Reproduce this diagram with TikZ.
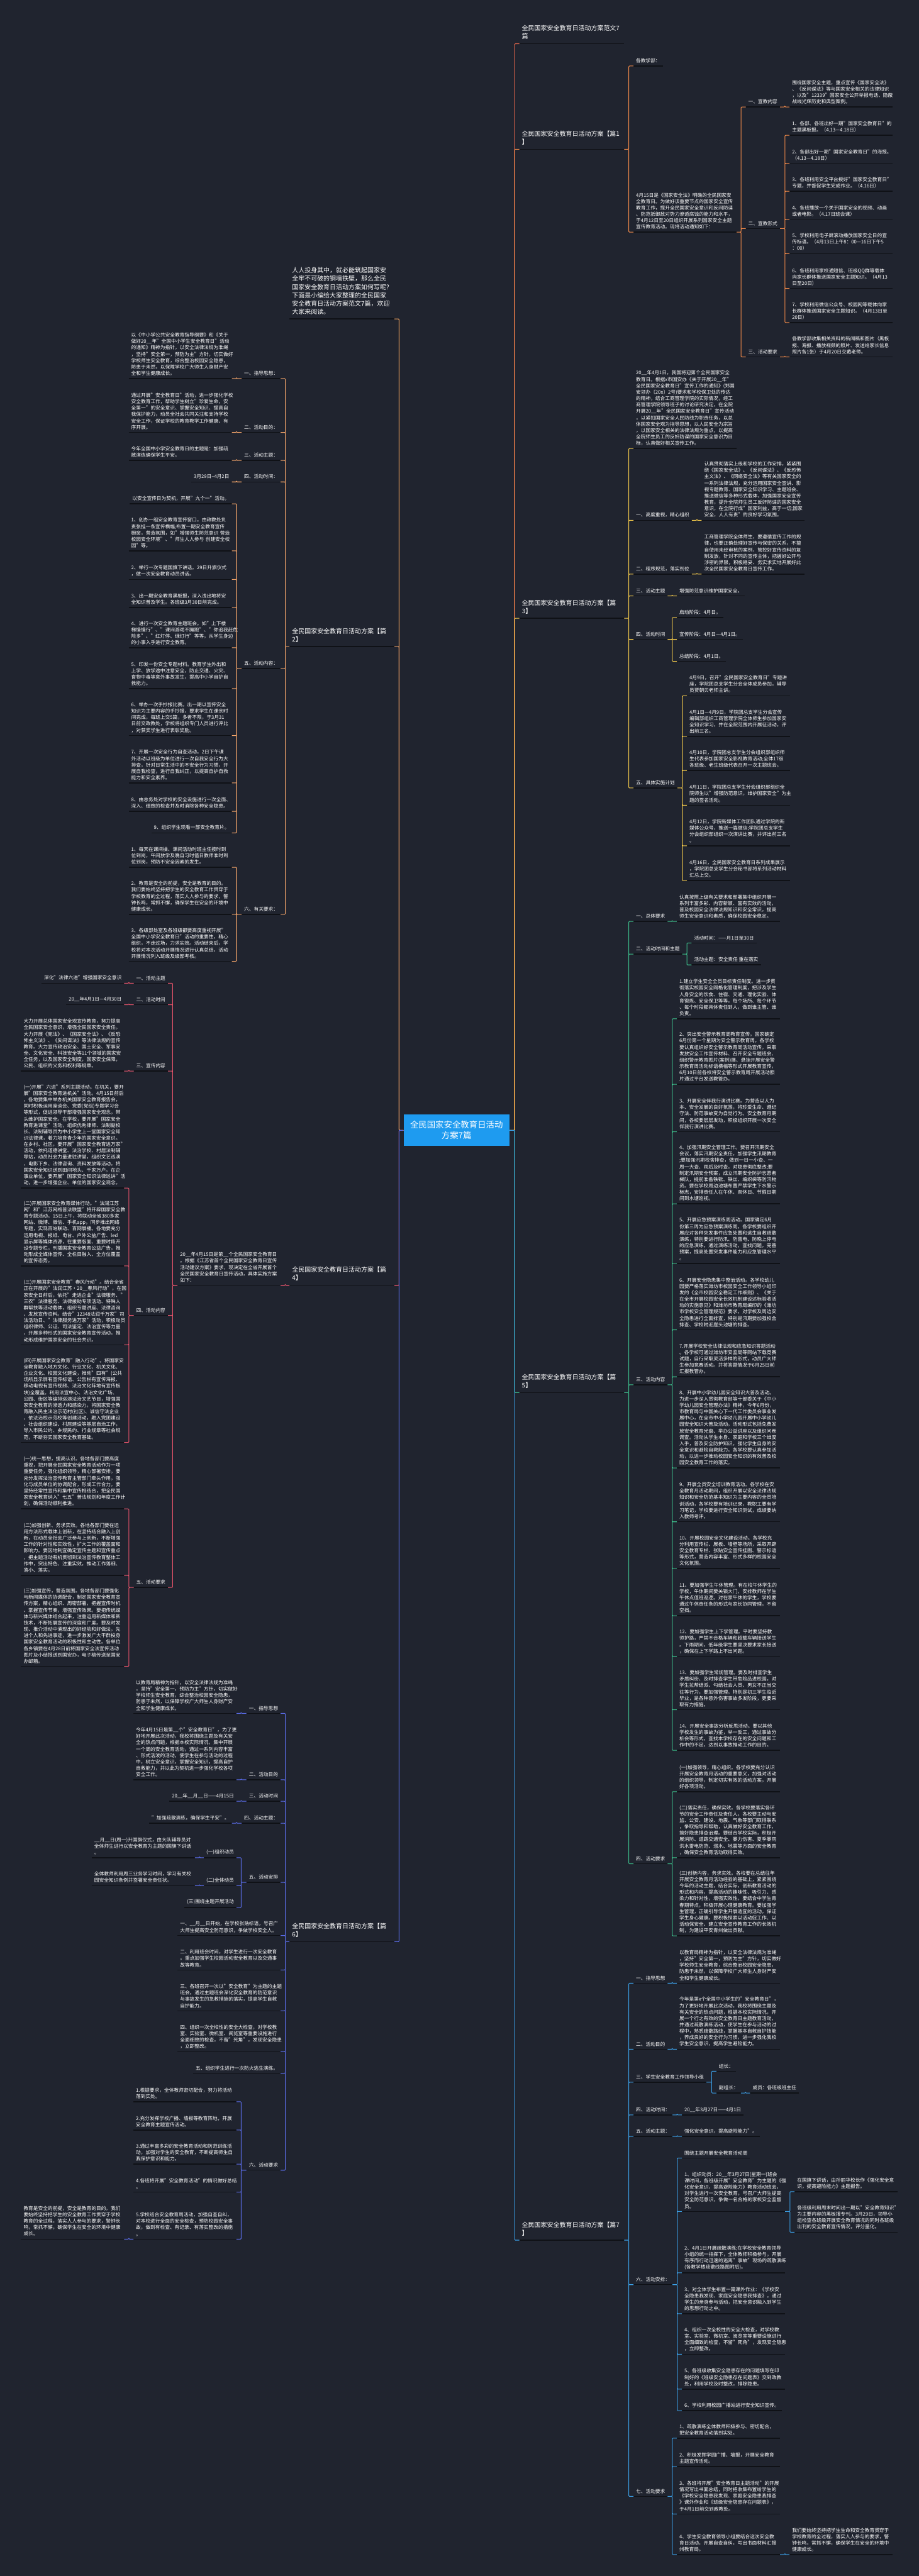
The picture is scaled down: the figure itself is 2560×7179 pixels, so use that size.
\documentclass[tikz,border=0pt]{standalone}
\usepackage{fontspec}
\setmainfont{Noto Sans CJK SC}
\usetikzlibrary{positioning,calc}
\definecolor{bgc}{HTML}{20242F}
\definecolor{ulc}{HTML}{0F1116}
\definecolor{rootc}{HTML}{1E9BF0}
\definecolor{cT}{HTML}{EE6A4D}
\definecolor{cA}{HTML}{F38B4A}
\definecolor{cI}{HTML}{F0A35E}
\definecolor{cB}{HTML}{F2A46A}
\definecolor{cC}{HTML}{F5CB4B}
\definecolor{cD}{HTML}{E9546B}
\definecolor{cE}{HTML}{3DBE8B}
\definecolor{cF}{HTML}{5A6CE8}
\definecolor{cG}{HTML}{3B9FE6}

\begin{document}
\begin{tikzpicture}[x=1pt, y=-1pt,
        uline/.style={draw=ulc, line width=2.6pt},
        txt/.style={text=white, font=\fontsize{13.5}{17.8}\selectfont, align=left, inner xsep=7pt, inner ysep=8pt,
            append after command={(\tikzlastnode.south west) edge[uline] (\tikzlastnode.south east)}},
        para/.style={txt, text width=273pt},
        top/.style={txt, font=\fontsize{17.5}{23}\selectfont, text width=278pt, inner ysep=12pt},
        rt/.style={anchor=south west},
        lt/.style={anchor=south east},
        root/.style={fill=rootc, text=white, font=\fontsize{23.5}{30}\selectfont, align=center, minimum width=295pt, minimum height=87pt, inner sep=0pt},
        lk/.style={line width=1.8pt, rounded corners=2pt},
        rto/.style={lk, to path={-| ($(\tikztotarget)+(-13,0)$) -- (\tikztotarget)}},
        lto/.style={lk, to path={-| ($(\tikztotarget)+(13,0)$) -- (\tikztotarget)}}]

    \fill[bgc] (0,0) rectangle (2560,7179);

    \node[root] (root) at (1272,3150) {全民国家安全教育日活动\\方案7篇};

    % first level
    \node[top, rt] (p0) at (1447,122) {全民国家安全教育日活动方案范文7\\篇};
    \node[top, rt] (p1) at (1447,416) {全民国家安全教育日活动方案【篇1\\】};
    \node[top, rt] (p3) at (1447,1723) {全民国家安全教育日活动方案【篇\\3】};
    \node[top, rt] (p5) at (1447,3881) {全民国家安全教育日活动方案【篇\\5】};
    \node[top, rt] (p7) at (1447,6243) {全民国家安全教育日活动方案【篇7\\】};
    \node[top, lt] (intro) at (1099,889) {人人投身其中，就必能筑起国家安\\全牢不可破的铜墙铁壁，那么全民\\国家安全教育日活动方案如何写呢?\\下面是小编给大家整理的全民国家\\安全教育日活动方案范文7篇，欢迎\\大家来阅读。};
    \node[top, lt] (p2) at (1099,1802) {全民国家安全教育日活动方案【篇\\2】};
    \node[top, lt] (p4) at (1099,3582) {全民国家安全教育日活动方案【篇\\4】};
    \node[top, lt] (p6) at (1099,5411) {全民国家安全教育日活动方案【篇\\6】};

    \draw[cT, rto] (root.east) to (p0.south west);
    \draw[cA, rto] (root.east) to (p1.south west);
    \draw[cC, rto] (root.east) to (p3.south west);
    \draw[cE, rto] (root.east) to (p5.south west);
    \draw[cG, rto] (root.east) to (p7.south west);
    \draw[cI, lto] (root.west) to (intro.south east);
    \draw[cB, lto] (root.west) to (p2.south east);
    \draw[cD, lto] (root.west) to (p4.south east);
    \draw[cF, lto] (root.west) to (p6.south east);

    % 篇1
    \node[txt, rt] (p1a) at (1765,184) {各教学部：};
    \node[para, rt] (p1b) at (1765,647) {4月15日是《国家安全法》明确的全民国家安\\全教育日。为做好该重要节点的国家安全宣传\\教育工作，提升全民国家安全意识和反间防谍\\、防范抵御敌对势力渗透腐蚀的能力和水平，\\于4月12日至20日组织开展系列国家安全主题\\宣传教育活动。现将活动通知如下：};
    \node[txt, rt] (p1b1) at (2078,298) {一、宣教内容};
    \node[para, rt] (p1b1a) at (2200,298) {围绕国家安全主题，重点宣传《国家安全法》\\、《反间谍法》等与国家安全相关的法律知识\\，以及"12339"国家安全公开举报电话、隐蔽\\战线光辉历史和典型案例。};
    \node[txt, rt] (p1b2) at (2078,637) {二、宣教形式};
    \node[para, rt] (p1b2a) at (2200,377) {1、各部、各班出好一期"国家安全教育日"的\\主题黑板报。（4.13—4.18日）};
    \node[para, rt] (p1b2b) at (2200,455) {2、各部出好一期"国家安全教育日"的海报。\\（4.13—4.18日）};
    \node[para, rt] (p1b2c) at (2200,533) {3、各班利用安全平台授好"国家安全教育日"\\专题，并督促学生完成作业。（4.16日）};
    \node[para, rt] (p1b2d) at (2200,611) {4、各班播放一个关于国家安全的视频、动画\\或者电影。（4.17日班会课）};
    \node[para, rt] (p1b2e) at (2200,707) {5、学校利用电子屏滚动播放国家安全日的宣\\传标语。（4月13日上午8：00—16日下午5\\：00）};
    \node[para, rt] (p1b2f) at (2200,804) {6、各班利用家校通短信、班级QQ群等载体\\向家长群体推送国家安全主题知识。（4月13\\日至20日）};
    \node[para, rt] (p1b2g) at (2200,899) {7、学校利用微信公众号、校园网等载体向家\\长群体推送国家安全主题知识。（4月13日至\\20日）};
    \node[txt, rt] (p1b3) at (2078,995) {三、活动要求};
    \node[para, rt] (p1b3a) at (2200,995) {各教学部收集相关资料的新闻稿和图片（黑板\\报、海报、播放视频的照片、发送给家长信息\\照片各1张）于4月20日交戴老师。};

    \draw[cA, rto] (p1.south east) to (p1a.south west) (p1.south east) to (p1b.south west);
    \draw[cA, rto] (p1b.south east) to (p1b1.south west) (p1b.south east) to (p1b2.south west) (p1b.south east) to (p1b3.south west);
    \draw[cA, rto] (p1b1.south east) to (p1b1a.south west);
    \draw[cA, rto] (p1b2.south east) to (p1b2a.south west) (p1b2.south east) to (p1b2b.south west) (p1b2.south east) to (p1b2c.south west)
        (p1b2.south east) to (p1b2d.south west) (p1b2.south east) to (p1b2e.south west) (p1b2.south east) to (p1b2f.south west)
        (p1b2.south east) to (p1b2g.south west);
    \draw[cA, rto] (p1b3.south east) to (p1b3a.south west);

    % 篇3
    \node[para, rt] (p3a) at (1765,1250) {20\_\_年4月1日，我国将迎第个全民国家安全\\教育日。根据x市国安办《关于开展20\_\_年"\\全民国家安全教育日"宣传工作的通知》(郑国\\安领办〔20x〕2号)要求和学校保卫处的传达\\的精神，结合工商管理学院的实际情况，经工\\商管理学院领导班子的讨论研究决定，在全院\\开展20\_\_年"全民国家安全教育日"宣传活动\\，以紧扣国家安全人民防线为职责任务，以总\\体国家安全观为指导思想，以人民安全为宗旨\\，以国家安全相关的法律法规为重点，以提高\\全院师生员工的反奸防谍的国家安全意识为目\\标，认真做好相关宣传工作。};
    \node[txt, rt] (p3b) at (1765,1450) {一、高度重视，精心组织};
    \node[para, rt] (p3b1) at (1955,1450) {认真贯彻落实上级和学校的工作安排，紧紧围\\绕《国家安全法》、《反间谍法》、《反恐怖\\主义法》、《网络安全法》等有关国家安全的\\一系列法律法规，充分运用国家安全宣讲、影\\视专题教育、国家安全知识学习、主题班会、\\推送微信等多种形式载体，加强国家安全宣传\\教育，提升全院师生员工反奸防谍的国家安全\\意识，在全院行成"国家利益，高于一切;国家\\安全，人人有责"的良好学习氛围。};
    \node[txt, rt] (p3c) at (1765,1600) {二、程序规范，落实到位};
    \node[para, rt] (p3c1) at (1955,1600) {工商管理学院全体师生，要遵循宣传工作的规\\律，也要正确处理好宣传与保密的关系，不擅\\自使用未经审核的案例，管控好宣传资料的复\\制发放，针对不同的宣传主体，把握好公开与\\涉密的界限，积极稳妥、务实求实地开展好此\\次全民国家安全教育日宣传工作。};
    \node[txt, rt] (p3d) at (1765,1661) {三、活动主题};
    \node[txt, rt] (p3d1) at (1886,1661) {增强防范意识维护国家安全。};
    \node[txt, rt] (p3e) at (1765,1782) {四、活动时间};
    \node[txt, rt] (p3e1) at (1886,1721) {启动阶段：4月日。};
    \node[txt, rt] (p3e2) at (1886,1782) {宣传阶段：4月日—4月1日。};
    \node[txt, rt] (p3e3) at (1886,1843) {总结阶段：4月1日。};
    \node[txt, rt] (p3f) at (1765,2196) {五、具体实施计划};
    \node[para, rt] (p3f1) at (1914,1939) {4月9日，召开"全民国家安全教育日"专题讲\\座，学院团总支学生分会全体成员参加，辅导\\员贾朝贝老师主讲。};
    \node[para, rt] (p3f2) at (1914,2052) {4月1日—4月9日，学院团总支学生分会宣传\\编辑部组织工商管理学院全体师生参加国家安\\全知识学习，并在全院范围内开展征活动，评\\出前三名。};
    \node[para, rt] (p3f3) at (1914,2147) {4月10日，学院团总支学生分会组织部组织师\\生代表参加国家安全影视教育活动;全体17级\\各班级、老生班级代表召开一次主题班会。};
    \node[para, rt] (p3f4) at (1914,2244) {4月11日，学院团总支学生分会组织部组织全\\院师生以"增强防范意识，维护国家安全"为主\\题的签名活动。};
    \node[para, rt] (p3f5) at (1914,2357) {4月12日，学院新媒体工作团队通过学院的新\\媒体公众号，推送一篇微信;学院团总支学生\\分会组织部组织一次演讲比赛，并评出前三名\\。};
    \node[para, rt] (p3f6) at (1914,2454) {4月16日，全民国家安全教育日系列成果展示\\，学院团总支学生分会秘书部将系列活动材料\\汇总上交。};

    \draw[cC, rto] (p3.south east) to (p3a.south west) (p3.south east) to (p3b.south west) (p3.south east) to (p3c.south west)
        (p3.south east) to (p3d.south west) (p3.south east) to (p3e.south west) (p3.south east) to (p3f.south west);
    \draw[cC, rto] (p3b.south east) to (p3b1.south west);
    \draw[cC, rto] (p3c.south east) to (p3c1.south west);
    \draw[cC, rto] (p3d.south east) to (p3d1.south west);
    \draw[cC, rto] (p3e.south east) to (p3e1.south west) (p3e.south east) to (p3e2.south west) (p3e.south east) to (p3e3.south west);
    \draw[cC, rto] (p3f.south east) to (p3f1.south west) (p3f.south east) to (p3f2.south west) (p3f.south east) to (p3f3.south west)
        (p3f.south east) to (p3f4.south west) (p3f.south east) to (p3f5.south west) (p3f.south east) to (p3f6.south west);

    % 篇5
    \node[txt, rt] (p5a) at (1765,2568) {一、总体要求};
    \node[para, rt] (p5a1) at (1886,2568) {认真按照上级有关要求和部署集中组织开展一\\系列丰富多彩、内容新颖、富有实效的活动，\\普及校园安全法律法规知识和安全常识，提高\\师生安全意识和素质，确保校园安全稳定。};
    \node[txt, rt] (p5b) at (1765,2659) {二、活动时间和主题};
    \node[txt, rt] (p5b1) at (1927,2628) {活动时间：——月1日至30日};
    \node[txt, rt] (p5b2) at (1927,2689) {活动主题：安全责任~重在落实};
    \node[txt, rt] (p5c) at (1765,3859) {三、活动内容};
    \node[para, rt] (p5c1) at (1886,2839) {1.建立学生安全全员目标责任制度。进一步贯\\彻落实校园安全网格化管理制度，把涉及学生\\人身安全的饮食、住宿、交通、理化实验、体\\育锻炼、安全保卫等等，每个场所、每个环节\\、每个时段都具体责任到人，做到谁主管、谁\\负责。};
    \node[para, rt] (p5c2) at (1886,3022) {2、突出安全警示教育周教育宣传。国家确定\\6月份第一个星期为安全警示教育周。各学校\\要认真组织好安全警示教育周活动宣传。采取\\发放安全工作宣传材料、召开安全专题班会、\\组织警示教育图片(案例)展、悬挂开展安全警\\示教育周活动标语横幅等形式开展教育宣传，\\6月10日前各校将安全警示教育周开展活动照\\片通过平台发送教管办。};
    \node[para, rt] (p5c3) at (1886,3154) {3、开展安全伴我行演讲比赛。为营造以人为\\本、安全发展的良好氛围，将珍爱生命、遵纪\\守法、防范事故变为自觉行为。安全教育月期\\间，各校要层层发动，积极组织开展一次安全\\伴我行演讲比赛。};
    \node[para, rt] (p5c4) at (1886,3355) {4、加强汛期安全管理工作。要召开汛期安全\\会议，落实汛期安全责任，加强学生汛期教育\\;要加强汛期校舍排查，做到一日一小查、一\\周一大查、雨后及时查，对隐患彻底整改;要\\制定汛期安全预案，成立汛期安全防护志愿者\\梯队，提前准备铁锨、铁丝、编织袋等防汛物\\资。要在学校周边池塘布置严禁学生下水警示\\标志，安排责任人在午休、双休日、节假日期\\间到水塘巡视。};
    \node[para, rt] (p5c5) at (1886,3521) {5、开展应急预案演练周活动。国家确定6月\\份第三周为应急预案演练周。各学校要组织开\\展应对各种突发事件应急处置和逃生自救疏散\\演练，特别要进行防汛、防雷电、防晚上停电\\的应急演练。通过演练活动，查找问题，完善\\预案，提高处置突发事件能力和应急管理水平\\。};
    \node[para, rt] (p5c6) at (1886,3706) {6、开展安全隐患集中整治活动。各学校幼儿\\园要严格落实潍坊市校园安全工作领导小组印\\发的《全市校园安全稳定工作细则》、《关于\\在全市开展校园安全长效机制建设达标验收活\\动的实施意见》和潍坊市教育局编印的《潍坊\\市学校安全管理规范》要求，对学校及周边安\\全隐患进行全面排查，特别是汛期要加强校舍\\排查、学校附近崖头池塘的排查。};
    \node[para, rt] (p5c7) at (1886,3837) {7.开展学校安全法律法规和应急知识答题活动\\。各学校可通过潍坊市安监局等网站下载竞赛\\试题，自行采取灵活多样的形式，动员广大师\\生参加竞赛活动。并将答题情况于6月25日前\\汇报教管办。};
    \node[para, rt] (p5c8) at (1886,4091) {8、开展中小学幼儿园安全知识大普及活动。\\为进一步深入贯彻教育部等十部委关于《中小\\学幼儿园安全管理办法》精神，今年6月份，\\市教育局与中国关心下一代工作委员会事业发\\展中心，在全市中小学幼儿园开展中小学幼儿\\园安全知识大普及活动。活动形式包括免费发\\放安全教育光盘、举办公益讲座以及组织问卷\\调查。活动从学生本身、家庭和学校三个维度\\入手，普及安全防护知识，强化学生自身的安\\全意识和避险自救能力。各学校要认真参加活\\动，以进一步推动校园安全知识的有效普及校\\园安全教育工作的落实。};
    \node[para, rt] (p5c9) at (1886,4241) {9、开展全员安全培训教育活动。各学校在安\\全教育月活动期间，组织开展以安全法律法规\\知识和安全防范基本知识为主要内容的全员培\\训活动，各学校要有培训记录，教职工要有学\\习笔记，学校要进行安全知识测试，成绩要纳\\入教师考评。};
    \node[para, rt] (p5c10) at (1886,4371) {10、开展校园安全文化建设活动。各学校充\\分利用宣传栏、展板、墙壁等场所，采取开辟\\安全教育专栏、张贴安全宣传挂图、警示标语\\等形式，营造内容丰富、形式多样的校园安全\\文化氛围。};
    \node[para, rt] (p5c11) at (1886,4503) {11、要加强学生午休管理。有在校午休学生的\\学校，午休期间要关锁大门，安排教师在学生\\午休点值班巡逻。对在家午休的学生，学校要\\通过午休责任条的形式与家长协同管理，不留\\空挡。};
    \node[para, rt] (p5c12) at (1886,4616) {12、要加强学生上下学管理。平时要坚持教\\师护路，严禁不合格车辆和超载车辆接送学生\\。下雨期间，低年级学生要坚决要求家长接送\\，确保在上下学路上不出问题。};
    \node[para, rt] (p5c13) at (1886,4765) {13、要加强学生常规管理。要及时排查学生\\矛盾纠纷、及时排查学生带危险品进校园，对\\学生拉帮结派、勾结社会人员、男女不正当交\\往等行为，要加强管理。特别是初三学生临近\\毕业，是各种意外伤害事故多发阶段，更要采\\取有力措施。};
    \node[para, rt] (p5c14) at (1886,4878) {14、开展安全事故分析反思活动。要以其他\\学校发生的事故为鉴，举一反三，通过事故分\\析会等形式，查找本学校存在的安全问题和工\\作中的不足，达到以事故推动工作的目的。};
    \node[txt, rt] (p5d) at (1765,5194) {四、活动要求};
    \node[para, rt] (p5d1) at (1886,4993) {(一)加强领导，精心组织。各学校要充分认识\\开展安全教育月活动的重要意义，加强对活动\\的组织领导，制定切实有效的活动方案，开展\\好各项活动。};
    \node[para, rt] (p5d2) at (1886,5177) {(二)落实责任，确保实效。各学校要落实各环\\节的安全工作责任及责任人。各校要主动与安\\监、公安、建设、地震、气象等部门取得联系\\，争取指导和帮助，认真做好安全教育工作，\\搞好隐患排查治理。要结合学校实际，积极开\\展消防、道路交通安全、暴力伤害、夏季暴雨\\洪水雷电防范、溺水、地震等方面的安全教育\\，确保安全教育活动取得实效。};
    \node[para, rt] (p5d3) at (1886,5395) {(三)创新内容，务求实效。各校要在总结往年\\开展安全教育月活动经验的基础上，紧紧围绕\\今年的活动主题，结合实际，创新教育活动的\\形式和内容，提高活动的趣味性、吸引力、感\\染力和针对性，增强实效性。要结合中学生青\\春期特点，积极开展心理健康教育。要加强学\\生管理，正确引导学生开展适宜的活动，保证\\学生身心健康。要积极探索以活动促工作、以\\活动保安全、建立安全宣传教育工作的长效机\\制，为建设平安青州做出贡献。};

    \draw[cE, rto] (p5.south east) to (p5a.south west) (p5.south east) to (p5b.south west) (p5.south east) to (p5c.south west)
        (p5.south east) to (p5d.south west);
    \draw[cE, rto] (p5a.south east) to (p5a1.south west);
    \draw[cE, rto] (p5b.south east) to (p5b1.south west) (p5b.south east) to (p5b2.south west);
    \draw[cE, rto] (p5c.south east) to (p5c1.south west) (p5c.south east) to (p5c2.south west) (p5c.south east) to (p5c3.south west)
        (p5c.south east) to (p5c4.south west) (p5c.south east) to (p5c5.south west) (p5c.south east) to (p5c6.south west)
        (p5c.south east) to (p5c7.south west) (p5c.south east) to (p5c8.south west) (p5c.south east) to (p5c9.south west)
        (p5c.south east) to (p5c10.south west) (p5c.south east) to (p5c11.south west) (p5c.south east) to (p5c12.south west)
        (p5c.south east) to (p5c13.south west) (p5c.south east) to (p5c14.south west);
    \draw[cE, rto] (p5d.south east) to (p5d1.south west) (p5d.south east) to (p5d2.south west) (p5d.south east) to (p5d3.south west);

    % 篇7
    \node[txt, rt] (p7a) at (1765,5527) {一、指导思想};
    \node[para, rt] (p7a1) at (1886,5527) {以教育局精神为指针，以安全法律法规为准绳\\，坚持"安全第一，预防为主"方针，切实做好\\学校师生安全教育，综合整治校园安全隐患，\\防患于未然，以保障学校广大师生人身财产安\\全和学生健康成长。};
    \node[txt, rt] (p7b) at (1765,5711) {二、活动目的};
    \node[para, rt] (p7b1) at (1886,5711) {今年是第x个全国中小学生的"安全教育日"，\\为了更好地开展此次活动，我校将围绕主题及\\有关安全的热点问题，根据本校实际情况，开\\展一个行之有效的安全教育日主题教育活动，\\并通过疏散演练活动，使学生在参与活动的过\\程中，熟悉疏散路线，掌握基本自救自护技能\\，养成良好的安全行为习惯，进一步强化我校\\学生安全意识，提高学生避险能力。};
    \node[txt, rt] (p7c) at (1765,5803) {三、学生安全教育工作领导小组};
    \node[txt, rt] (p7c1) at (1996,5772) {组长：};
    \node[txt, rt] (p7c2) at (1996,5833) {副组长：};
    \node[txt, rt] (p7c2a) at (2090,5833) {成员：各班级班主任};
    \node[txt, rt] (p7d) at (1765,5894) {四、活动时间：};
    \node[txt, rt] (p7d1) at (1900,5894) {20\_\_年3月27日——4月1日};
    \node[txt, rt] (p7e) at (1765,5954) {五、活动主题：};
    \node[txt, rt] (p7e1) at (1900,5954) {强化安全意识，提高避险能力"。};
    \node[txt, rt] (p7f) at (1765,6367) {六、活动安排：};
    \node[txt, rt] (p7f0) at (1900,6014) {围绕主题开展安全教育活动周};
    \node[para, rt] (p7f1) at (1900,6163) {1、组织动员：20\_\_年3月27日(星期一)班会\\课时间，各班级开展"安全教育"为主题的《强\\化安全意识，提高避险能力》教育活动班会，\\对学生进行一次安全教育，号召广大师生提高\\安全防范意识，争做一名合格的家校安全监督\\员。};
    \node[para, rt] (p7f1a) at (2214,6108) {在国旗下讲话，由孙丽华校长作《强化安全意\\识，提高避险能力》主题报告。};
    \node[para, rt] (p7f1b) at (2214,6221) {各班级利用周末时间出一期以"安全教育知识"\\为主要内容的黑板报专刊。3月29日，领导小\\组检查各班级开展安全教育情况的同时各班级\\出刊的安全教育宣传情况，评分量化。};
    \node[para, rt] (p7f2) at (1900,6334) {2、4月1日开展疏散演练;在学校安全教育领导\\小组的统一指挥下，全体教师积极参与，开展\\有序而行动迅速的逃离"事故"现场的疏散演练\\(各教学楼疏散线路图附后)。};
    \node[para, rt] (p7f3) at (1900,6448) {3、对全体学生布置一篇课外作业：《学校安\\全隐患我发现、家庭安全隐患我排查》，通过\\学生的亲身参与活动，把安全意识融入到学生\\的思想行动之中。};
    \node[para, rt] (p7f4) at (1900,6561) {4、组织一次全校性的安全大检查，对学校教\\室、实验室、微机室、阅览室等重要设施进行\\全面细致的检查，不留"死角"，发现安全隐患\\，立即整改。};
    \node[para, rt] (p7f5) at (1900,6658) {5、各班级收集安全隐患存在的问题填写在印\\制好的《班级安全隐患存在问题表》交到政教\\处，利用学校及时整改，排除隐患。};
    \node[txt, rt] (p7f6) at (1900,6718) {6、学校利用校园广播站进行安全知识宣传。};
    \node[txt, rt] (p7g) at (1765,6957) {七、活动要求};
    \node[para, rt] (p7g1) at (1886,6795) {1、疏散演练全体教师积极参与、密切配合，\\把安全教育活动落到实处。};
    \node[para, rt] (p7g2) at (1886,6874) {2、积极发挥学园广播、墙报，开展安全教育\\主题宣传活动。};
    \node[para, rt] (p7g3) at (1886,7006) {3、各班将开展"安全教育日主题活动"的开展\\情况写出书面总结，同时把收集布置给学生的\\《学校安全隐患我发现、家庭安全隐患我排查\\》课外作业和《班级安全隐患存在问题表》，\\于4月1日前交到政教处。};
    \node[para, rt] (p7g4) at (1886,7119) {4、学生安全教育领导小组要结合这次安全教\\育日活动，开展自查自纠，写出书面材料汇报\\州教育局。};
    \node[para, rt] (p7g4a) at (2200,7119) {我们要始终坚持把学生生命和安全教育贯穿于\\学校教育的全过程，落实人人参与的要求，警\\钟长鸣，常抓不懈，确保学生在安全的环境中\\健康成长。};

    \draw[cG, rto] (p7.south east) to (p7a.south west) (p7.south east) to (p7b.south west) (p7.south east) to (p7c.south west)
        (p7.south east) to (p7d.south west) (p7.south east) to (p7e.south west) (p7.south east) to (p7f.south west)
        (p7.south east) to (p7g.south west);
    \draw[cG, rto] (p7a.south east) to (p7a1.south west);
    \draw[cG, rto] (p7b.south east) to (p7b1.south west);
    \draw[cG, rto] (p7c.south east) to (p7c1.south west) (p7c.south east) to (p7c2.south west);
    \draw[cG, rto] (p7c2.south east) to (p7c2a.south west);
    \draw[cG, rto] (p7d.south east) to (p7d1.south west);
    \draw[cG, rto] (p7e.south east) to (p7e1.south west);
    \draw[cG, rto] (p7f.south east) to (p7f0.south west) (p7f.south east) to (p7f1.south west) (p7f.south east) to (p7f2.south west)
        (p7f.south east) to (p7f3.south west) (p7f.south east) to (p7f4.south west) (p7f.south east) to (p7f5.south west)
        (p7f.south east) to (p7f6.south west);
    \draw[cG, rto] (p7f1.south east) to (p7f1a.south west) (p7f1.south east) to (p7f1b.south west);
    \draw[cG, rto] (p7g.south east) to (p7g1.south west) (p7g.south east) to (p7g2.south west) (p7g.south east) to (p7g3.south west)
        (p7g.south east) to (p7g4.south west);
    \draw[cG, rto] (p7g4.south east) to (p7g4a.south west);

    % 篇2
    \node[txt, lt] (p2a) at (782,1055) {一、指导思想：};
    \node[para, lt] (p2a1) at (646,1055) {以《中小学公共安全教育指导纲要》和《关于\\做好20\_\_年"全国中小学生安全教育日"活动\\的通知》精神为指针，以安全法律法规为准绳\\，坚持"安全第一，预防为主"方针，切实做好\\学校师生安全教育，综合整治校园安全隐患，\\防患于未然，以保障学校广大师生人身财产安\\全和学生健康成长。};
    \node[txt, lt] (p2b) at (782,1205) {二、活动目的：};
    \node[para, lt] (p2b1) at (646,1205) {通过开展"安全教育日"活动，进一步强化学校\\安全教育工作，帮助学生树立"珍爱生命，安\\全第一"的安全意识、掌握安全知识、提高自\\我保护能力，动员全社会共同关注和支持学校\\安全工作，保证学校的教育教学工作健康、有\\序开展。};
    \node[txt, lt] (p2c) at (782,1283) {三、活动主题：};
    \node[para, lt] (p2c1) at (646,1283) {今年全国中小学安全教育日的主题是：加强疏\\散演练确保学生平安。};
    \node[txt, lt] (p2d) at (782,1343) {四、活动时间：};
    \node[txt, lt] (p2d1) at (646,1343) {3月29日–4月2日};
    \node[txt, lt] (p2e) at (782,1863) {五、活动内容：};
    \node[txt, lt] (p2e0) at (646,1404) {以安全宣传日为契机，开展"九个一"活动。};
    \node[para, lt] (p2e1) at (646,1535) {1、创办一组安全教育宣传窗口。由政教处负\\责张挂一条宣传横幅;布置一期安全教育宣传\\橱窗，营造氛围，如"增强师生防范意识~营造\\校园安全环境"、"师生人人参与~创建安全校\\园"等。};
    \node[para, lt] (p2e2) at (646,1615) {2、举行一次专题国旗下讲话。29日升旗仪式\\，做一次安全教育动员讲话。};
    \node[para, lt] (p2e3) at (646,1693) {3、出一期安全教育黑板报，深入浅出地将安\\全知识普及学生。各班级3月30日前完成。};
    \node[para, lt] (p2e4) at (646,1805) {4、进行一次安全教育主题班会。如"上下楼\\梯慢慢行"、"课间游戏不蹦跑"、"你追我赶危\\险多"、"红灯停、绿灯行"等等，从学生身边\\的小事入手进行安全教育。};
    \node[para, lt] (p2e5) at (646,1919) {5、印发一份安全专题材料。教育学生外出和\\上学、放学途中注意安全，防止交通、火灾、\\食物中毒等意外事故发生，提高中小学自护自\\救能力。};
    \node[para, lt] (p2e6) at (646,2050) {6、举办一次手抄报比赛。出一期以宣传安全\\知识为主要内容的手抄报，要求学生在课余时\\间完成，每班上交5篇，多者不限，于3月31\\日前交政教处，学校将组织专门人员进行评比\\，对获奖学生进行表彰奖励。};
    \node[para, lt] (p2e7) at (646,2182) {7、开展一次安全行为自查活动。2日下午课\\外活动以班级为单位进行一次自我安全行为大\\排查，针对日常生活中的不安全行为习惯，开\\展自我检查，进行自我纠正，以提高自护自救\\能力和安全素养。};
    \node[para, lt] (p2e8) at (646,2261) {8、由总务处对学校的安全设施进行一次全面、\\深入、细致的检查并及时消除各种安全隐患。};
    \node[txt, lt] (p2e9) at (646,2321) {9、组织学生观看一部安全教育片。};
    \node[txt, lt] (p2f) at (782,2548) {六、有关要求：};
    \node[para, lt] (p2f1) at (646,2417) {1、每天在课间操、课间活动时班主任按时到\\位到岗，午间放学及晚自习时值日教师准时到\\位到岗，预防不安全因素的发生。};
    \node[para, lt] (p2f2) at (646,2548) {2、教育是安全的前提，安全是教育的目的。\\我们要始终坚持把学生的安全教育工作贯穿于\\学校教育的全过程，落实人人参与的要求，警\\钟长鸣，常抓不懈，确保学生在安全的环境中\\健康成长。};
    \node[para, lt] (p2f3) at (646,2679) {3、各级部处室及各班级都要高度重视开展"\\全国中小学安全教育日"活动的重要性，精心\\组织，不走过场，力求实效。活动结束后，学\\校将对本次活动开展情况进行认真总结，活动\\开展情况列入班级及级部考核。};

    \draw[cB, lto] (p2.south west) to (p2a.south east) (p2.south west) to (p2b.south east) (p2.south west) to (p2c.south east)
        (p2.south west) to (p2d.south east) (p2.south west) to (p2e.south east) (p2.south west) to (p2f.south east);
    \draw[cB, lto] (p2a.south west) to (p2a1.south east);
    \draw[cB, lto] (p2b.south west) to (p2b1.south east);
    \draw[cB, lto] (p2c.south west) to (p2c1.south east);
    \draw[cB, lto] (p2d.south west) to (p2d1.south east);
    \draw[cB, lto] (p2e.south west) to (p2e0.south east) (p2e.south west) to (p2e1.south east) (p2e.south west) to (p2e2.south east)
        (p2e.south west) to (p2e3.south east) (p2e.south west) to (p2e4.south east) (p2e.south west) to (p2e5.south east)
        (p2e.south west) to (p2e6.south east) (p2e.south west) to (p2e7.south east) (p2e.south west) to (p2e8.south east)
        (p2e.south west) to (p2e9.south east);
    \draw[cB, lto] (p2f.south west) to (p2f1.south east) (p2f.south west) to (p2f2.south east) (p2f.south west) to (p2f3.south east);

    % 篇4
    \node[para, lt] (p4a) at (782,3582) {20\_\_年4月15日是第\_\_个全民国家安全教育日\\。根据《江苏省首个全民国家安全教育日宣传\\活动建议方案》要求，现决定在全省开展首个\\全民国家安全教育日宣传活动，具体实施方案\\如下：};
    \node[txt, lt] (p4b) at (468,2740) {一、活动主题};
    \node[txt, lt] (p4b1) at (346,2740) {深化"法律六进"增强国家安全意识};
    \node[txt, lt] (p4c) at (468,2800) {二、活动时间};
    \node[txt, lt] (p4c1) at (346,2800) {20\_\_年4月1日—4月30日};
    \node[txt, lt] (p4d) at (468,2985) {三、宣传内容};
    \node[para, lt] (p4d1) at (346,2985) {大力开展总体国家安全观宣传教育，努力提高\\全民国家安全意识，增强全民国家安全责任。\\大力开展《宪法》、《国家安全法》、《反恐\\怖主义法》、《反间谍法》等法律法规的宣传\\教育。大力宣传政治安全、国土安全、军事安\\全、文化安全、科技安全等11个领域的国家安\\全任务，以及国家安全制度，国家安全保障，\\公民、组织的义务和权利等规章。};
    \node[txt, lt] (p4e) at (468,3666) {四、活动内容};
    \node[para, lt] (p4e1) at (346,3311) {(一)开展"六进"系列主题活动。在机关，要开\\展"国家安全教育进机关"活动。4月15日前后\\，各地要集中举办机关国家安全教育报告会，\\同时积极运用座谈会、党委(党组)专题学习会\\等形式，促进领导干部增强国家安全观念，带\\头维护国家安全。在学校，要开展"国家安全\\教育进课堂"活动，组织优秀律师、法制副校\\长、法制辅导员为中小学生上一堂国家安全知\\识法律课，着力培育青少年的国家安全意识。\\在乡村、社区，要开展"国家安全教育进万家"\\活动，依托道德讲堂、法治学校、村居法制辅\\导站，动员社会力量进驻讲堂，组织文艺巡演\\、电影下乡、法律咨询、资料发放等活动，将\\国家安全知识送到田间地头、千家万户。在企\\事业单位，要开展"国家安全知识法律巡讲"活\\动，进一步增强企业、单位的国家安全观念。};
    \node[para, lt] (p4e2) at (346,3528) {(二)开展国家安全教育媒体行动。"法润江苏\\网"和"江苏网络普法联盟"将开辟国家安全教\\育专题活动。15日上午，将联动全省380多家\\网站、微博、微信、手机app，同步推出网络\\专题，实现百站联动、百网展播。各地要充分\\运用电视、报纸、电台、户外公益广告、led\\显示屏等媒体资源，在重要版面、重要时段开\\设专题专栏，刊播国家安全教育公益广告，推\\动形成全媒体宣传、全栏目融入、全方位覆盖\\的宣传态势。};
    \node[para, lt] (p4e3) at (346,3748) {(三)开展国家安全教育"春风行动"。结合全省\\正在开展的"法润江苏·20\_\_春风行动"，在国\\家安全日前后，依托"走进企业"法律服务、"\\三农"法律服务、法律援助专项活动、特殊人\\群帮扶等活动载体，组织专题讲座、法律咨询\\、发放宣传资料。结合"12348法润千万家"司\\法活动日、"法律服务进万家"活动，积极动员\\组织律师、公证、司法鉴定、法治宣传等力量\\，开展多种形式的国家安全教育宣传活动，推\\动形成维护国家安全的社会共识。};
    \node[para, lt] (p4e4) at (346,4020) {(四)开展国家安全教育"融入行动"。将国家安\\全教育融入地方文化、行业文化、机关文化、\\企业文化、校园文化建设，推动"四有"(公共\\场所显示屏有宣传标语、公告栏有宣传海报、\\移动电视有宣传视频、法治文化阵地有宣传板\\块)全覆盖。利用法宣中心、法治文化广场、\\公园、街区等编排巡演法治文艺节目，增强国\\家安全教育的渗透力和感染力。将国家安全教\\育融入民主法治示范村(社区)、诚信守法企业\\、依法治校示范校等创建活动，融入党团建设\\、社会组织建设、村居建设等基层自治工作，\\导入市民公约、乡规民约、行业规章等社会规\\范，不断夯实国家安全教育基础。};
    \node[txt, lt] (p4f) at (468,4424) {五、活动要求};
    \node[para, lt] (p4f1) at (346,4205) {(一)统一思想，提高认识。各地各部门要高度\\重视，把开展全民国家安全教育活动作为一项\\重要任务，强化组织领导，精心部署安排。要\\充分发挥法治宣传教育主管部门牵头作用，强\\化与成员单位的协调配合，形成工作合力。要\\坚持经常性宣传和集中宣传相结合，把全民国\\家安全教育纳入"七五"普法规划和年度工作计\\划，确保活动顺利推进。};
    \node[para, lt] (p4f2) at (346,4390) {(二)加强创新、务求实效。各地各部门要在运\\用方法形式载体上创新，在坚持结合融入上创\\新，在动员全社会广泛参与上创新，不断增强\\工作的针对性和实效性，扩大工作的覆盖面和\\影响力。要因地制宜确定宣传主题和宣传重点\\，把主题活动有机贯彻到法治宣传教育整体工\\作中，突出特色、注重实效，推动工作落细、\\落小、落实。};
    \node[para, lt] (p4f3) at (346,4644) {(三)加强宣传，营造氛围。各地各部门要强化\\与新闻媒体的协调配合，制定国家安全教育宣\\传方案，精心组织、周密部署，把握宣传时机\\、掌握宣传节奏，增强宣传效果。要把传统媒\\体与新兴媒体结合起来，注重运用新媒体和新\\技术，不断拓展宣传的深度和广度。要及时发\\现、推介活动中涌现出的好经验和好做法，先\\进个人和先进事迹，进一步激发广大干群投身\\国家安全教育活动的积极性和主动性。各单位\\各乡镇要在4月28日前将国家安全法宣传活动\\图片及小结报送到国安办，电子稿传送至国安\\办邮箱。};

    \draw[cD, lto] (p4.south west) to (p4a.south east);
    \draw[cD, lto] (p4a.south west) to (p4b.south east) (p4a.south west) to (p4c.south east) (p4a.south west) to (p4d.south east)
        (p4a.south west) to (p4e.south east) (p4a.south west) to (p4f.south east);
    \draw[cD, lto] (p4b.south west) to (p4b1.south east);
    \draw[cD, lto] (p4c.south west) to (p4c1.south east);
    \draw[cD, lto] (p4d.south west) to (p4d1.south east);
    \draw[cD, lto] (p4e.south west) to (p4e1.south east) (p4e.south west) to (p4e2.south east) (p4e.south west) to (p4e3.south east)
        (p4e.south west) to (p4e4.south east);
    \draw[cD, lto] (p4f.south west) to (p4f1.south east) (p4f.south west) to (p4f2.south east) (p4f.south west) to (p4f3.south east);

    % 篇6
    \node[txt, lt] (p6a) at (782,4775) {一、指导思想};
    \node[para, lt] (p6a1) at (659,4775) {以教育局精神为指针，以安全法律法规为准绳\\，坚持"安全第一，预防为主"方针，切实做好\\学校师生安全教育，综合整治校园安全隐患，\\防患于未然，以保障学校广大师生人身财产安\\全和学生健康成长。};
    \node[txt, lt] (p6b) at (782,4960) {二、活动目的};
    \node[para, lt] (p6b1) at (659,4960) {今年4月15日是第\_\_个"安全教育日"，为了更\\好地开展此次活动，我校将围绕主题及有关安\\全的热点问题，根据本校实际情况，集中开展\\一个周的安全教育活动，通过一系列内容丰富\\、形式活泼的活动，使学生在参与活动的过程\\中，树立安全意识，掌握安全知识，提高自护\\自救能力，并以此为契机进一步强化学校各项\\安全工作。};
    \node[txt, lt] (p6c) at (782,5020) {三、活动时间};
    \node[txt, lt] (p6c1) at (659,5020) {20\_\_年\_\_月\_\_日——4月15日};
    \node[txt, lt] (p6d) at (782,5081) {四、活动主题：};
    \node[txt, lt] (p6d1) at (646,5081) {"加强疏散演练，确保学生平安"。};
    \node[txt, lt] (p6e) at (782,5246) {五、活动安排};
    \node[txt, lt] (p6e1) at (659,5177) {(一)组织动员};
    \node[para, lt] (p6e1a) at (543,5177) {\_\_月\_\_日(周一)升国旗仪式，由大队辅导员对\\全体师生进行以安全教育为主题的国旗下讲话\\。};
    \node[txt, lt] (p6e2) at (659,5255) {(二)全体动员};
    \node[para, lt] (p6e2a) at (543,5255) {全体教师利用周三业务学习时间，学习有关校\\园安全知识条例并签署安全责任状。};
    \node[txt, lt] (p6e3) at (659,5316) {(三)围绕主题开展活动};
    \node[para, lt] (p6f) at (782,5394) {一、\_\_月\_\_日开始，在学校张贴标语，号召广\\大师生提高安全防范意识，争做学校安全人。};
    \node[para, lt] (p6g) at (782,5490) {二、利用班会时间，对学生进行一次安全教育\\。重点加强学生校园活动安全教育以及交通事\\故等教育。};
    \node[para, lt] (p6h) at (782,5604) {三、各班召开一次以"安全教育"为主题的主题\\班会。通过主题班会深化安全教育的防范意识\\与事故发生的急救措施的落实，提高学生自救\\自护能力。};
    \node[para, lt] (p6i) at (782,5718) {四、组织一次全校性的安全大检查，对学校教\\室、实验室、微机室、阅览室等重要设施进行\\全面细致的检查，不留"死角"，发现安全隐患\\，立即整改。};
    \node[txt, lt] (p6j) at (782,5778) {五、组织学生进行一次防火逃生演练。};
    \node[txt, lt] (p6k) at (782,6048) {六、活动要求};
    \node[para, lt] (p6k1) at (659,5857) {1.根据要求，全体教师密切配合，努力将活动\\落到实处。};
    \node[para, lt] (p6k2) at (659,5936) {2.充分发挥学校广播、墙报等教育阵地，开展\\安全教育主题宣传活动。};
    \node[para, lt] (p6k3) at (659,6031) {3.通过丰富多彩的安全教育活动和防范训练活\\动，加强对学生的安全教育，不断提高师生自\\我保护意识和能力。};
    \node[para, lt] (p6k4) at (659,6109) {4.各班将开展"安全教育活动"的情况做好总结\\。};
    \node[para, lt] (p6k5) at (659,6240) {5.学校结合安全教育周活动，加强自查自纠，\\对本校进行全面的安全检查，预防校园安全事\\故，做到有检查、有记录、有落实整改的措施\\。};
    \node[para, lt] (p6k5a) at (346,6240) {教育是安全的前提，安全是教育的目的。我们\\要始终坚持把学生的安全教育工作贯穿于学校\\教育的全过程，落实人人参与的要求，警钟长\\鸣，常抓不懈，确保学生在安全的环境中健康\\成长。};

    \draw[cF, lto] (p6.south west) to (p6a.south east) (p6.south west) to (p6b.south east) (p6.south west) to (p6c.south east)
        (p6.south west) to (p6d.south east) (p6.south west) to (p6e.south east) (p6.south west) to (p6f.south east)
        (p6.south west) to (p6g.south east) (p6.south west) to (p6h.south east) (p6.south west) to (p6i.south east)
        (p6.south west) to (p6j.south east) (p6.south west) to (p6k.south east);
    \draw[cF, lto] (p6a.south west) to (p6a1.south east);
    \draw[cF, lto] (p6b.south west) to (p6b1.south east);
    \draw[cF, lto] (p6c.south west) to (p6c1.south east);
    \draw[cF, lto] (p6d.south west) to (p6d1.south east);
    \draw[cF, lto] (p6e.south west) to (p6e1.south east) (p6e.south west) to (p6e2.south east) (p6e.south west) to (p6e3.south east);
    \draw[cF, lto] (p6e1.south west) to (p6e1a.south east);
    \draw[cF, lto] (p6e2.south west) to (p6e2a.south east);
    \draw[cF, lto] (p6k.south west) to (p6k1.south east) (p6k.south west) to (p6k2.south east) (p6k.south west) to (p6k3.south east)
        (p6k.south west) to (p6k4.south east) (p6k.south west) to (p6k5.south east);
    \draw[cF, lto] (p6k5.south west) to (p6k5a.south east);

\end{tikzpicture}
\end{document}
